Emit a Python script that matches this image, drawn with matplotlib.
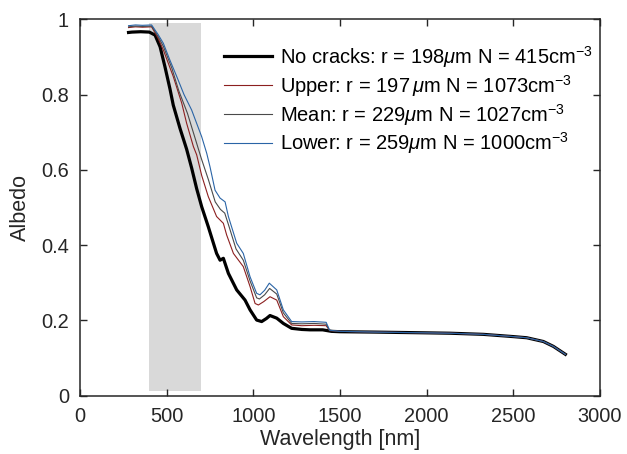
import matplotlib
matplotlib.use("Agg")
import matplotlib.pyplot as plt
import numpy as np

plt.rcParams["font.family"] = ["Liberation Sans", "DejaVu Sans"]
plt.rcParams["mathtext.fontset"] = "custom"
plt.rcParams["mathtext.it"] = "Liberation Sans:italic"
plt.rcParams["mathtext.rm"] = "Liberation Sans"

# shared tail (all curves merge after ~1450 nm)
tail_wl = [1700, 2000, 2135, 2327, 2500, 2577, 2673, 2731, 2800]
tail_val = [0.169, 0.167, 0.166, 0.163, 0.157, 0.154, 0.144, 0.131, 0.110]

# no cracks
wl_nc = [280, 300, 350, 400, 433, 462, 490, 519, 538, 577, 615, 644, 673, 702,
         740, 788, 808, 827, 856, 904, 952, 981, 1019, 1048, 1075, 1096, 1135, 1173,
         1221, 1280, 1327, 1400, 1450, 1500]
alb_nc = [0.965, 0.966, 0.967, 0.966, 0.958, 0.927, 0.874, 0.815, 0.772, 0.710, 0.655,
          0.605, 0.550, 0.502, 0.449, 0.378, 0.360, 0.365, 0.325, 0.281, 0.254,
          0.228, 0.201, 0.197, 0.205, 0.213, 0.206, 0.192, 0.179, 0.176, 0.175, 0.175,
          0.171, 0.170]

# upper
wl_up = [280, 320, 360, 413, 450, 481, 538, 587, 615, 654, 673, 702, 740, 788, 827,
         846, 885, 942, 981, 1010, 1029, 1060, 1096, 1135, 1173, 1221, 1280, 1350,
         1420, 1440, 1500]
alb_up = [0.978, 0.980, 0.979, 0.980, 0.950, 0.918, 0.848, 0.777, 0.724, 0.662, 0.640,
          0.585, 0.529, 0.476, 0.458, 0.427, 0.378, 0.343, 0.290, 0.245, 0.241, 0.250,
          0.263, 0.254, 0.210, 0.188, 0.186, 0.187, 0.186, 0.173, 0.171]

# mean
wl_mean = [280, 320, 360, 413, 450, 481, 530, 570, 620, 660, 700, 740, 780, 810, 835,
           856, 900, 942, 981, 1019, 1035, 1065, 1094, 1135, 1173, 1221, 1280, 1350,
           1420, 1440, 1500]
alb_mean = [0.980, 0.982, 0.981, 0.982, 0.955, 0.928, 0.870, 0.810, 0.750, 0.690, 0.630,
            0.575, 0.515, 0.495, 0.485, 0.455, 0.390, 0.360, 0.305, 0.260, 0.257, 0.268,
            0.285, 0.270, 0.220, 0.192, 0.191, 0.192, 0.190, 0.173, 0.171]

# lower
wl_lo = [280, 320, 360, 413, 450, 481, 520, 558, 600, 644, 702, 731, 750, 779, 808,
         837, 856, 904, 942, 981, 1019, 1038, 1065, 1092, 1135, 1173, 1221, 1280, 1350,
         1420, 1440, 1500]
alb_lo = [0.983, 0.985, 0.984, 0.985, 0.960, 0.936, 0.890, 0.848, 0.800, 0.759, 0.688,
          0.644, 0.608, 0.546, 0.525, 0.515, 0.476, 0.405, 0.378, 0.316, 0.272, 0.268,
          0.280, 0.299, 0.281, 0.228, 0.197, 0.196, 0.197, 0.195, 0.174, 0.171]

labels = [r"No cracks: r = 198$\mu$m N = 415cm$^{-3}$",
          r"Upper: r = 197$\,\mu$m N = 1073cm$^{-3}$",
          r"Mean: r = 229$\mu$m N = 1027cm$^{-3}$",
          r"Lower: r = 259$\mu$m N = 1000cm$^{-3}$"]

band = (400, 700)

fig = plt.figure(figsize=(6.27, 4.54), dpi=100)
ax = fig.add_axes([0.1276, 0.1284, 0.8294, 0.8291])

ax.fill_between(band, 0.013, 0.99, color="#d9d9d9", lw=0)

ax.plot(wl_nc + tail_wl, alb_nc + tail_val, color="black", lw=2.3, label=labels[0])
ax.plot(wl_up + tail_wl, alb_up + tail_val, color="#8c1f1f", lw=0.8, label=labels[1])
ax.plot(wl_mean + tail_wl, alb_mean + tail_val, color="#4a4a4a", lw=0.8, label=labels[2])
ax.plot(wl_lo + tail_wl, alb_lo + tail_val, color="#2a64a6", lw=0.8, label=labels[3])

ax.set_xlim(0, 3000)
ax.set_ylim(0, 1)
ax.set_xticks(np.arange(0, 3001, 500))
ax.set_yticks([0, 0.2, 0.4, 0.6, 0.8, 1])
ax.set_yticklabels(["0", "0.2", "0.4", "0.6", "0.8", "1"])
ax.tick_params(direction="in", top=True, right=True, length=5, width=1,
               labelsize=14.4, colors="#262626", pad=8)
for s in ax.spines.values():
    s.set_linewidth(1.1)
    s.set_color("#262626")

ax.set_xlabel("Wavelength [nm]", fontsize=15.5, color="#262626", labelpad=2)
ax.set_ylabel("Albedo", fontsize=15.5, color="#262626", labelpad=7)

ax.legend(loc="upper left", bbox_to_anchor=(0.277, 0.935), frameon=False, fontsize=14.5,
          handlelength=2.4, handletextpad=0.4, labelspacing=0.15,
          borderpad=0, borderaxespad=0)

fig.savefig("out.png", dpi=100)
